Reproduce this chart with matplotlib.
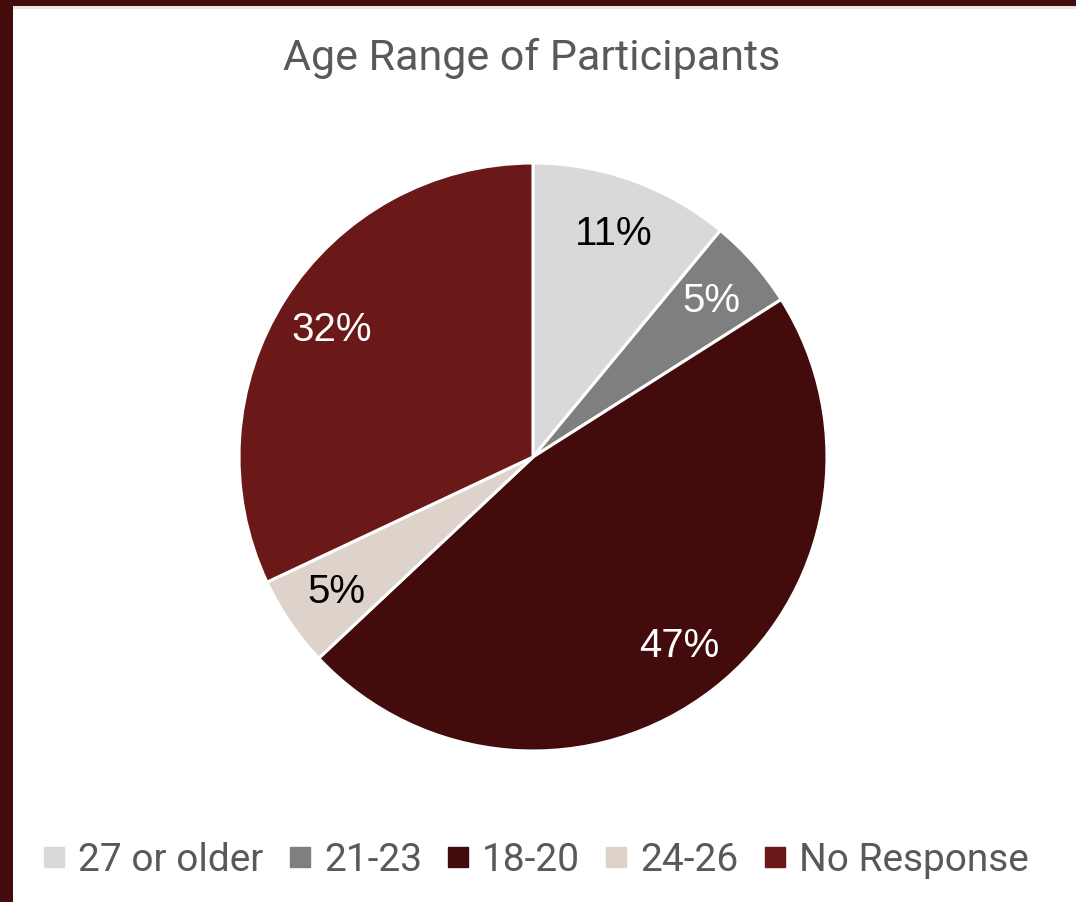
import matplotlib
matplotlib.use("Agg")
import matplotlib.pyplot as plt
from matplotlib.patches import Rectangle
from matplotlib.lines import Line2D

categories = ["27 or older", "21-23", "18-20", "24-26", "No Response"]
shares = [11, 5, 47, 5, 32]
colors = ["#d9d9d9", "#7f7f7f", "#430b0b", "#ddd3ca", "#6b1818"]
label_colors = ["#000000", "#ffffff", "#ffffff", "#000000", "#ffffff"]
title = "Age Range of Participants"

W, H = 1076, 903
fig = plt.figure(figsize=(W / 100, H / 100), dpi=100)
fig.patch.set_facecolor("white")

# pie axes: centre (533, 458) px, radius 294 px
cx, cy, r = 533, 458, 294
ax = fig.add_axes([(cx - r) / W, (H - cy - r) / H, 2 * r / W, 2 * r / H])
wedges, texts, autotexts = ax.pie(
    shares,
    colors=colors,
    startangle=90,
    counterclock=False,
    autopct=lambda p: f"{p:.0f}%",
    pctdistance=0.81,
    wedgeprops=dict(edgecolor="white", linewidth=2.2),
    textprops=dict(fontsize=29, family=["Liberation Sans", "DejaVu Sans"]),
)
for t, c in zip(autotexts, label_colors):
    t.set_color(c)
ax.set_xlim(-1, 1)
ax.set_ylim(-1, 1)
ax.set_aspect("equal")
ax.axis("off")

fig.text(532 / W, 1 - 58 / H, title, ha="center", va="center",
         fontsize=31, color="#595959", family=["Roboto", "DejaVu Sans"])

handles = [Line2D([], [], marker="s", linestyle="none", markersize=15,
                  markerfacecolor=c, markeredgecolor=c) for c in colors]
leg = fig.legend(handles, categories, loc="center",
                 bbox_to_anchor=(536 / W, 1 - 861 / H), ncol=5, frameon=False,
                 handlelength=0.55, handletextpad=0.35, columnspacing=0.65,
                 borderpad=0, borderaxespad=0,
                 prop=dict(size=28, family=["Roboto", "DejaVu Sans"]))
for t in leg.get_texts():
    t.set_color("#595959")

# dark frame along the top and left edges
fig.patches.append(Rectangle((0, 1 - 7 / H), 1, 7 / H, transform=fig.transFigure,
                             facecolor="#430b0b", edgecolor="none", zorder=10))
fig.patches.append(Rectangle((0, 1 - 10 / H), 1, 3 / H, transform=fig.transFigure,
                             facecolor="#e6e6e6", edgecolor="none", zorder=9))
fig.patches.append(Rectangle((0, 0), 13 / W, 1, transform=fig.transFigure,
                             facecolor="#430b0b", edgecolor="none", zorder=11))

fig.savefig("out.png", dpi=100)
